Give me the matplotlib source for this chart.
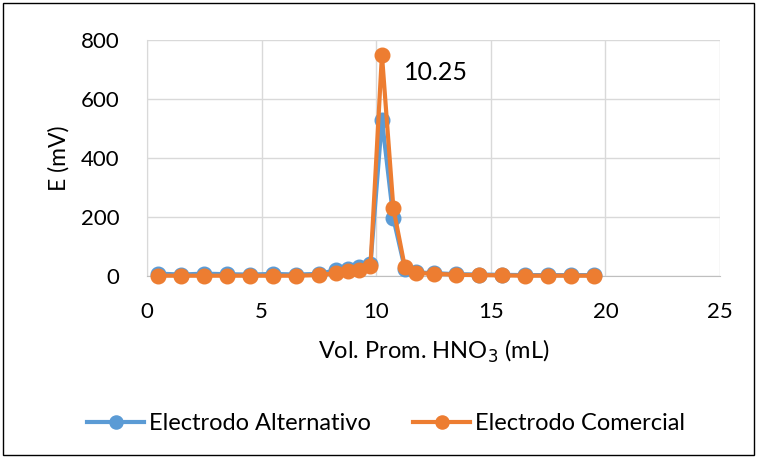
import matplotlib.pyplot as plt
import matplotlib.patches as mpatches

# volumen promedio de HNO3 y potencial medido por cada electrodo
vol_prom = [0.5, 1.5, 2.5, 3.5, 4.5, 5.5, 6.5, 7.5, 8.25, 8.75, 9.25, 9.75,
            10.25, 10.75, 11.25, 11.75, 12.5, 13.5, 14.5, 15.5, 16.5, 17.5, 18.5, 19.5]
e_alternativo = [8, 5, 8, 6, 5, 7, 5, 7, 20, 25, 30, 40,
                 530, 195, 25, 12, 10, 6, 5, 4, 3, 3, 3, 3]
e_comercial = [1, 1, 1, 1, 1, 1, 1, 3, 10, 18, 20, 34,
               750, 230, 30, 10, 8, 4, 3, 2, 1, 1, 1, 1]

x_ticks = [0, 5, 10, 15, 20, 25]
y_ticks = [0, 200, 400, 600, 800]

plt.rcParams['font.family'] = ['Lato', 'DejaVu Sans']

fig = plt.figure(figsize=(7.57, 4.58), dpi=100)
ax = fig.add_axes([147 / 757, 1 - 276 / 458, (720 - 147) / 757, (276 - 40) / 458])

blue = '#5b9bd5'
orange = '#ed7d31'
ax.plot(vol_prom, e_alternativo, color=blue, lw=3, marker='o', ms=10.5,
        label='Electrodo Alternativo', zorder=3, clip_on=False)
ax.plot(vol_prom, e_comercial, color=orange, lw=3, marker='o', ms=10.5,
        label='Electrodo Comercial', zorder=4, clip_on=False)

ax.text(11.2, 690, '10.25', fontsize=18, va='center', ha='left')

ax.set_xlim(0, 25)
ax.set_ylim(0, 800)
ax.set_xticks(x_ticks)
ax.set_yticks(y_ticks)
ax.tick_params(length=0, labelsize=16)
ax.tick_params(axis='x', pad=19)
ax.tick_params(axis='y', pad=20)
ax.grid(True, color='#d9d9d9', lw=1)
ax.set_axisbelow(True)
for side in ['top', 'right']:
    ax.spines[side].set_visible(False)
ax.spines['left'].set_color('#d9d9d9')
ax.spines['bottom'].set_color('#bfbfbf')

ax.set_xlabel('Vol. Prom. HNO$_3$ (mL)', fontsize=17, labelpad=11)
ax.set_ylabel('E (mV)', fontsize=16.5, labelpad=8)

fig.legend(loc='center', bbox_to_anchor=(386 / 757, 1 - 424 / 458), ncol=2, frameon=False,
           fontsize=17, handlelength=2.4, columnspacing=1.8, handletextpad=0.2, markerscale=0.9)

border = mpatches.Rectangle((0.004, 0.006), 0.992, 0.988, transform=fig.transFigure,
                            fill=False, edgecolor='black', lw=1)
fig.patches.append(border)

fig.savefig('out.png', dpi=100)
